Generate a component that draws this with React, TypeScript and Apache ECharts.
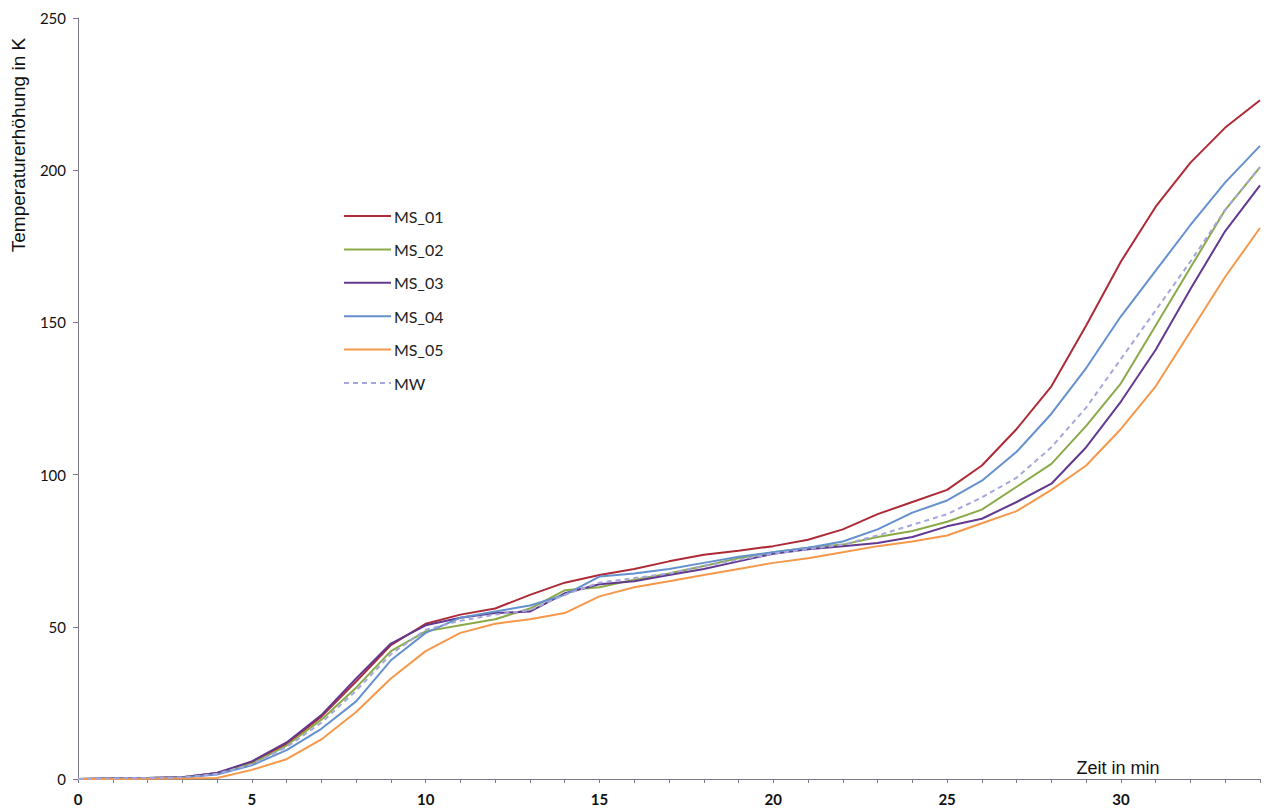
import React, { useEffect, useRef } from "react";
import * as echarts from "echarts";

const minutes = Array.from({ length: 35 }, (_, i) => i);
const xTickLabels = ["0", "5", "10", "15", "20", "25", "30"];

const ms01 = [0, 0.2, 0.3, 0.6, 2, 5.5, 11.5, 20.5, 32, 44, 51, 54, 56, 60.5, 64.5, 67, 69, 71.5, 73.7, 75, 76.5, 78.6, 82, 87, 91, 95, 103, 115, 129, 149, 170, 188, 202.5, 214, 223];
const ms02 = [0, 0.2, 0.3, 0.5, 1.8, 5, 11, 19.5, 30, 42, 48.5, 50.5, 52.5, 56, 62, 63, 65.5, 67.5, 70, 72.5, 74.5, 76, 77, 79.5, 81.5, 84.5, 88.5, 96, 103.5, 116, 130, 149, 168, 187, 201];
const ms03 = [0, 0.2, 0.3, 0.6, 2, 5.8, 12, 21, 33, 44.5, 50.5, 53, 54.5, 55, 61, 64, 65, 67, 69, 71.5, 74, 75.5, 76.5, 77.5, 79.5, 83, 85.5, 91, 97, 109, 124, 141, 161, 180, 195];
const ms04 = [0, 0.2, 0.3, 0.5, 1.5, 4.5, 9.5, 16.5, 25.5, 39, 48, 53, 55, 57, 60.5, 66.5, 67.5, 69, 71, 73, 74.5, 76, 78, 82, 87.5, 91.5, 98, 107.5, 120, 135, 152, 167, 182, 196, 208];
const ms05 = [0, 0, 0.1, 0.2, 0.3, 3, 6.5, 13, 22, 33, 42, 48, 51, 52.5, 54.5, 60, 63, 65, 67, 69, 71, 72.5, 74.5, 76.5, 78, 80, 84, 88, 95, 103, 115, 129, 147, 165, 181];
const mw = [0, 0.2, 0.3, 0.5, 1.7, 4.8, 10.5, 18.5, 29, 41, 49, 52, 54, 55.5, 60.5, 64.5, 66, 67.5, 70, 72, 74, 75.5, 77, 80, 83.5, 87, 92.5, 99, 109, 122, 138, 154, 170, 187, 201];

const seriesNames = ["MS_01", "MS_02", "MS_03", "MS_04", "MS_05", "MW"];
const seriesColors = ["#AE2A36", "#8AAA48", "#63398F", "#6491CE", "#F5984A", "#A4A6DC"];

export default function App() {
  const ref = useRef<HTMLDivElement>(null);
  useEffect(() => {
    if (!ref.current) return;
    const chart = echarts.init(ref.current, undefined, { renderer: "svg" });
    const allData = [ms01, ms02, ms03, ms04, ms05, mw];
    const series = allData.map((arr, i) => ({
      name: seriesNames[i],
      type: "line",
      symbol: "none",
      data: arr.map((v, k) => [minutes[k], v]),
      lineStyle: {
        color: seriesColors[i],
        width: 2,
        type: i === 5 ? [5, 4] : "solid",
      },
      itemStyle: { color: seriesColors[i] },
      z: i === 5 ? 5 : 2,
    }));
    chart.setOption({
      animation: false,
      backgroundColor: "#ffffff",
      grid: { left: 78, right: 9, top: 18, bottom: 33 },
      legend: {
        orient: "vertical",
        left: 343,
        top: 208,
        padding: 0,
        itemWidth: 47,
        itemHeight: 14,
        itemGap: 17.4,
        itemStyle: { opacity: 0, borderWidth: 0 },
        data: seriesNames,
        textStyle: { fontFamily: "Lato", fontSize: 16, color: "#222", padding: [0, 0, 0, -2] },
      },
      xAxis: {
        type: "value",
        min: 0,
        max: 34,
        interval: 1,
        axisLine: { show: true, lineStyle: { color: "#7a7a8a", width: 1 } },
        axisTick: { show: true, length: 4, lineStyle: { color: "#7a7a8a" } },
        splitLine: { show: false },
        axisLabel: {
          margin: 12,
          fontFamily: "Lato",
          fontSize: 15,
          fontWeight: "bold",
          color: "#111",
          formatter: (v: number) => (xTickLabels.includes(String(v)) ? String(v) : ""),
        },
      },
      yAxis: {
        type: "value",
        min: 0,
        max: 250,
        interval: 50,
        axisLine: { show: true, lineStyle: { color: "#7a7a8a", width: 1 } },
        axisTick: { show: true, length: 5, lineStyle: { color: "#7a7a8a" } },
        splitLine: { show: false },
        axisLabel: {
          margin: 12,
          fontFamily: "Lato",
          fontSize: 15,
          color: "#111",
        },
      },
      graphic: [
        {
          type: "text",
          x: 18,
          y: 145,
          rotation: Math.PI / 2,
          style: {
            text: "Temperaturerhöhung in K",
            fontFamily: "Liberation Sans",
            fontSize: 19,
            fill: "#111",
            textAlign: "center",
            textVerticalAlign: "middle",
          },
        },
        {
          type: "text",
          x: 1118,
          y: 768,
          style: {
            text: "Zeit in min",
            fontFamily: "Liberation Sans",
            fontSize: 18,
            fill: "#111",
            textAlign: "center",
            textVerticalAlign: "middle",
          },
        },
      ],
      series,
    });
    return () => chart.dispose();
  }, []);
  return (
    <div
      ref={ref}
      style={{ position: "fixed", left: 0, top: 0, width: 1269, height: 812, background: "#fff" }}
    />
  );
}
